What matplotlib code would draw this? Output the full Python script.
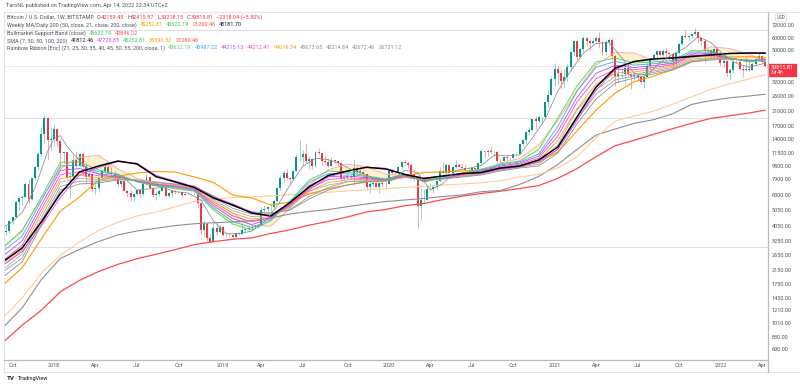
import matplotlib
matplotlib.use("Agg")
import matplotlib.pyplot as plt
from matplotlib.lines import Line2D
from matplotlib.patches import Rectangle
from matplotlib.ticker import NullLocator
import pandas as pd

plt.rcParams['font.family'] = ['Roboto', 'DejaVu Sans']

# weekly BTCUSD candles (BITSTAMP), first week 2017-09-11
first_week = '2017-09-11'
first_open = 4160
closes = [3690, 3780, 4370, 4600, 5700, 6010, 6150, 7400, 5950, 8000, 9350, 11300, 15000, 19100, 13900, 14000,
          16200, 13600, 11500, 11700, 8200, 8200, 10400, 9600, 11400, 9500, 8200, 8500, 6900, 7000, 8000, 8900,
          9350, 8700, 8500, 8200, 7350, 7650, 6700, 6450, 6100, 6400, 6750, 6350, 7400, 8200, 7000, 6300,
          6400, 6700, 7200, 6200, 6500, 6700, 6600, 6600, 6300, 6400, 6350, 6400, 6350, 5600, 3800, 4150,
          3400, 3200, 3950, 3700, 4000, 3550, 3550, 3530, 3450, 3650, 3620, 3800, 3850, 3950, 4000, 4000,
          4100, 5100, 5150, 5300, 5300, 5800, 7000, 8000, 8700, 8000, 7950, 8950, 10800, 10800, 11300, 10200,
          10500, 9500, 11700, 11500, 10300, 10100, 9600, 10400, 10300, 10000, 8050, 8150, 8300, 8200, 9250, 8800,
          8800, 8500, 7050, 7400, 7500, 7100, 7500, 7400, 7350, 8900, 8650, 8600, 9350, 10150, 9900, 9650,
          8550, 8000, 5350, 5850, 5900, 6850, 6900, 7100, 7700, 8900, 8700, 9700, 8700, 9450, 9650, 9450,
          9300, 9000, 9050, 9250, 9200, 9950, 11800, 11700, 11900, 11650, 11700, 10250, 10300, 10900, 10700, 10650,
          11350, 11350, 13050, 13800, 15500, 16000, 18700, 18200, 19150, 19200, 23800, 26500, 33000, 38200, 36000, 32300,
          34300, 39300, 48600, 57400, 45200, 51200, 59900, 57500, 55900, 57000, 60000, 56200, 49100, 56600, 58300, 46400,
          34800, 35700, 35800, 39100, 35500, 34700, 35300, 34200, 31800, 34300, 39900, 44600, 47000, 49300, 47100, 49900,
          48300, 47300, 42800, 48200, 55000, 61500, 60900, 61300, 63300, 65500, 59700, 57300, 49400, 50100, 46700, 50800,
          47300, 41800, 43100, 36300, 37900, 42400, 42200, 38400, 37700, 38400, 37800, 41300, 44500, 46400, 42159.45, 39815.81]
highs = [4180, 4120, 4400, 4620, 5860, 6200, 6310, 7600, 7880, 8100, 9500, 11800, 16800, 19700, 19200, 16500,
         17250, 16300, 14100, 11900, 11700, 8700, 11200, 11800, 11500, 11700, 9900, 9100, 8500, 7500, 8200, 9000,
         9750, 9950, 9400, 8880, 8400, 7800, 7770, 6800, 6800, 6500, 6800, 6800, 7600, 8500, 8250, 7100,
         6600, 6900, 7300, 7400, 6600, 6800, 6800, 6650, 6650, 6500, 6500, 6500, 6550, 6450, 5650, 4400,
         4300, 3600, 4200, 4200, 4100, 4100, 3700, 3700, 3600, 3700, 3720, 4200, 3900, 3970, 4050, 4100,
         4150, 5300, 5460, 5400, 5650, 5900, 7100, 8400, 8900, 9100, 8200, 9100, 11300, 13880, 12000, 13200,
         11000, 10600, 11800, 12300, 11500, 10950, 10600, 10900, 10450, 10300, 10100, 8450, 8800, 8450, 10500, 9550,
         9500, 8850, 8500, 7800, 7700, 7650, 7550, 7700, 7650, 8950, 9200, 8800, 9600, 10200, 10500, 10300,
         9950, 9200, 8150, 6950, 6900, 7200, 7450, 7300, 7800, 9450, 10050, 9900, 9850, 9600, 10400, 10000,
         9800, 9750, 9300, 9450, 9300, 10050, 12100, 11900, 12100, 12500, 11800, 12050, 10600, 11100, 11000, 10900,
         11400, 11700, 13300, 14000, 15900, 16500, 18800, 19500, 19900, 19400, 24300, 28400, 34800, 42000, 40100, 37800,
         38600, 40900, 49700, 58300, 57500, 52600, 61700, 60500, 58500, 60000, 61800, 64900, 57000, 58000, 59500, 59500,
         46700, 40800, 39500, 41300, 41300, 36100, 36700, 35900, 34700, 34500, 42400, 44700, 48100, 49500, 50500, 51000,
         52900, 48900, 47400, 48500, 56500, 62900, 67000, 63700, 64300, 69000, 66300, 59900, 59100, 51900, 50600, 52100,
         52000, 47600, 44400, 43500, 38900, 42500, 45800, 44700, 39800, 45400, 42500, 42400, 44800, 48200, 47000, 42415.57]
lows = [2980, 3530, 3680, 4160, 4560, 5110, 5420, 6100, 5510, 5840, 7800, 9000, 11000, 13200, 10400, 12000,
        12800, 12800, 9000, 10000, 7900, 6000, 8000, 9300, 9400, 8300, 7400, 7900, 6600, 6400, 6600, 7800,
        8700, 8600, 8300, 7900, 7050, 7100, 6650, 6150, 5800, 5800, 6280, 6100, 6300, 7300, 6900, 6100,
        5900, 6250, 6680, 6100, 6100, 6100, 6400, 6500, 6100, 6300, 6300, 6300, 6300, 5200, 3550, 3500,
        3250, 3150, 3200, 3550, 3650, 3500, 3450, 3500, 3350, 3400, 3560, 3600, 3720, 3700, 3800, 3950,
        3950, 4100, 4950, 4970, 5000, 5200, 5700, 6800, 7500, 7900, 7450, 7800, 8950, 10300, 9600, 10000,
        9100, 9100, 9400, 11200, 9500, 9800, 9350, 9600, 9900, 9600, 7700, 7750, 7850, 7900, 7300, 8700,
        8700, 8450, 6800, 6500, 7200, 7050, 6450, 7100, 6850, 7350, 8550, 8250, 8600, 9150, 9700, 9300,
        8400, 7700, 3850, 4500, 5700, 5850, 6750, 6450, 6800, 7650, 8550, 8100, 8600, 8650, 9250, 9350,
        9150, 8900, 8950, 9050, 9050, 9150, 9950, 10800, 11100, 11500, 11100, 9900, 9850, 10200, 10150, 10400,
        10550, 11200, 11300, 12900, 13300, 14900, 15800, 16200, 17600, 17600, 19000, 22400, 26500, 30200, 30400, 28800,
        29300, 32300, 37400, 47000, 43000, 45000, 49200, 53300, 50400, 54800, 55500, 51500, 47100, 47000, 53000, 43900,
        30000, 31200, 33500, 31100, 34800, 28800, 32700, 32100, 31000, 29300, 34000, 37700, 43800, 43900, 46400, 46500,
        42800, 43400, 39500, 40800, 47000, 53900, 59500, 58000, 59500, 62300, 55600, 53300, 42000, 46900, 45500, 45500,
        45700, 40600, 39700, 34000, 32900, 36300, 41700, 38000, 34300, 37200, 37200, 37600, 40500, 44200, 41900, 39218.15]

# SMA 7 (thin grey)
sma7_weeks = [0, 2, 6, 10, 12, 14, 16, 18, 20, 22, 26, 30, 34, 38, 42, 46, 50, 54, 58, 62, 66, 70, 74, 78, 82,
              86, 90, 94, 98, 102, 106, 110, 114, 118, 122, 126, 130, 134, 138, 142, 146, 150, 154, 158, 162,
              166, 170, 174, 178, 182, 186, 190, 194, 198, 202, 206, 210, 214, 218, 222, 226, 230, 234, 238, 239]
sma7 = [4027, 4149, 4900, 6937, 9021, 11800, 14121, 14757, 12729, 11400, 9357, 8500, 8193, 8064, 6771, 6886,
        7029, 6614, 6493, 5886, 4350, 3621, 3621, 3760, 4307, 5393, 7250, 9500, 10686, 10457, 9821, 8893,
        8414, 7693, 7771, 8986, 8707, 6771, 7436, 8971, 9229, 9650, 11129, 11057, 11186, 14250, 18650, 27979,
        37386, 47986, 55243, 56157, 45243, 35843, 35100, 42000, 47386, 52000, 61029, 56000, 47029, 41571, 39257,
        41180, 41812.46]

# six-weekly samples of the other averages
ma_weeks = [0, 6, 12, 18, 24, 30, 36, 42, 48, 54, 60, 66, 72, 78, 84, 90, 96, 102, 108, 114, 120,
            126, 132, 138, 144, 150, 156, 162, 168, 174, 180, 186, 192, 198, 204, 210, 216, 222, 228, 234, 239]
daily200 = [2420, 2950, 4280, 6440, 8770, 9550, 10260, 9830, 8200, 7600, 7020, 6040, 5465, 4870, 4670, 5660,
            7070, 8340, 8890, 9380, 9150, 8460, 7990, 8280, 8580, 8700, 9280, 9550, 10410, 12540, 19280, 29620,
            38890, 42690, 44240, 44880, 45860, 46850, 47880, 48210, 48181.70]
sma30 = [2300, 2800, 4050, 6100, 8400, 9350, 10150, 9950, 8350, 7700, 7100, 6150, 5550, 4950, 4650, 5450,
         6800, 8150, 8850, 9400, 9250, 8500, 8050, 8250, 8500, 8650, 9150, 9450, 10200, 12100, 18300, 28300,
         38000, 42800, 44500, 45200, 46300, 47500, 48000, 48200, 47723.85]
sma50 = [1737, 2217, 3358, 5015, 6128, 7818, 8243, 8642, 8831, 8768, 8161, 7550, 6306, 6041, 5465, 5705,
         6397, 6913, 7277, 7630, 7818, 8279, 8705, 8768, 8894, 9022, 9207, 9487, 10117, 11676, 15774, 21309,
         27183, 32008, 34581, 37918, 42625, 44441, 45526, 45725, 45252.81]
sma100 = [1086, 1442, 2049, 2670, 3217, 3793, 4266, 4668, 4930, 5326, 5745, 5955, 6085, 6138, 6216, 6354,
          6444, 6565, 6678, 6787, 6903, 7022, 7143, 7277, 7383, 7512, 7729, 8161, 8463, 9312, 10869, 14372,
          18203, 19554, 20947, 23165, 25783, 28677, 31022, 33300, 35390.32]
sma200 = [762, 976, 1209, 1578, 1855, 2108, 2334, 2529, 2698, 2882, 3096, 3231, 3343, 3410, 3634, 3830,
          4091, 4321, 4601, 4944, 5126, 5403, 5584, 5907, 6199, 6444, 6659, 6913, 7215, 8001, 9207, 10916,
          12778, 13825, 15023, 16306, 17610, 18898, 19638, 20412, 21260.46]
ema200 = [945, 1249, 1875, 2540, 2890, 3240, 3556, 3766, 3914, 4068, 4176, 4235, 4284, 4358, 4536, 4804,
          4979, 5119, 5334, 5543, 5745, 5870, 5999, 6172, 6306, 6612, 6726, 7333, 8220, 9766, 12124, 14895,
          16231, 17610, 18527, 20186, 23098, 24380, 25382, 26042, 26721.12]
sma20 = [2940, 3820, 5928, 9188, 10848, 11110, 9185, 8008, 7385, 6858, 6655, 5755, 4879, 4075, 4038, 5213,
         7245, 9065, 9820, 9460, 8488, 8343, 7933, 7988, 8288, 8620, 9980, 10625, 12930, 18330, 27978, 40630,
         48710, 48080, 43315, 40690, 46835, 52760, 51310, 47370, 42846.22]
ema21 = [2990, 3770, 6130, 10100, 10100, 9022, 8520, 7600, 7170, 6970, 6680, 5087, 4160, 3820, 4350, 5790,
         7818, 8890, 8770, 8280, 7930, 8520, 7600, 8160, 8640, 9150, 9830, 10260, 12100, 19000, 30050, 42380,
         44879, 41777, 42380, 43300, 49970, 49611, 44879, 42380, 43622.19]
ema25 = [2819, 3496, 5795, 9568, 9678, 8793, 8427, 7630, 7236, 7032, 6745, 5235, 4315, 3959, 4416, 5680,
         7566, 8558, 8547, 8185, 7900, 8451, 7641, 8034, 8571, 9052, 9692, 10117, 11346, 16873, 27856, 39343,
         42686, 40540, 41369, 42504, 48837, 48701, 44820, 42564, 43987.22]
ema30 = [2632, 3263, 5434, 8971, 9207, 8535, 8302, 7663, 7302, 7092, 6826, 5403, 4498, 4129, 4498, 5568,
         7204, 8196, 8290, 8069, 7866, 8374, 7696, 8011, 8499, 8919, 9541, 9960, 10994, 15706, 25527, 36155,
         40309, 39172, 40248, 41575, 47524, 47740, 44694, 42747, 44215.13]
ema35 = [2467, 3059, 5119, 8451, 8781, 8290, 8196, 7696, 7365, 7153, 6893, 5568, 4674, 4290, 4575, 5457,
         6913, 7866, 8058, 7966, 7833, 8302, 7740, 7989, 8427, 8805, 9393, 9807, 10670, 14683, 23934, 33371,
         38190, 37918, 39229, 40733, 46380, 46783, 44567, 42930, 44212.41]
ema40 = [2314, 2868, 4826, 7955, 8374, 8069, 8092, 7729, 7427, 7214, 6971, 5737, 4860, 4455, 4654, 5357,
         6640, 7533, 7844, 7866, 7795, 8232, 7795, 7978, 8350, 8693, 9259, 9664, 10352, 13746, 21685, 30849,
         36200, 36725, 38242, 39907, 45270, 45921, 44507, 43114, 44018.34]
ema45 = [2161, 2702, 4556, 7566, 8011, 7866, 8001, 7762, 7598, 7277, 7042, 5907, 5036, 4621, 4728, 5258,
         6687, 7267, 7641, 7773, 7762, 8161, 7844, 7966, 8279, 8595, 9040, 9527, 10060, 12932, 21350, 28595,
         34433, 35648, 37307, 39172, 44241, 45078, 44441, 43301, 43673.65]
ema50 = [2097, 2554, 4321, 7133, 7696, 7674, 7911, 7784, 7544, 7333, 7102, 6059, 5214, 4785, 4804, 5104,
         6172, 7022, 7630, 7685, 7740, 8103, 7888, 7945, 8220, 8499, 9009, 9405, 9807, 12188, 18711, 26732,
         32857, 34630, 36517, 38458, 43301, 44380, 44319, 43424, 43214.84]
ema55 = [1948, 2415, 4103, 6774, 7383, 7489, 7818, 7818, 7598, 7383, 7174, 6216, 5387, 4944, 4873, 5087,
         5955, 6774, 7277, 7598, 7707, 8161, 7930, 7930, 8161, 8398, 8894, 9284, 9554, 11509, 17436, 24946,
         31369, 33698, 35686, 37791, 42380, 43611, 44241, 43611, 42672.46]

hlines = [67000, 19000, 3000]
price_ticks = [72000, 60000, 50000, 32000, 26000, 21000, 17000, 14000, 11500, 9500, 7900, 6300, 5050, 4050,
               3250, 2650, 2150, 1750, 1450, 1210, 1010, 830, 690]
last_close = 39815.81

W, H = 800, 387
FS = 3.95
fig = plt.figure(figsize=(W / 100, H / 100), dpi=100)
ax = fig.add_axes([5 / W, 1 - 360 / H, 763 / W, 348 / H])
ax.set_yscale('log')
ax.set_ylim(593, 86740)
ax.set_xlim(0.63, 239.9)

UP, DOWN = '#089981', '#f23645'
opens = [first_open] + closes[:-1]
x = list(range(len(closes)))
cols = [UP if c >= o else DOWN for o, c in zip(opens, closes)]
ax.vlines(x, lows, highs, colors=cols, lw=0.5, alpha=0.6, zorder=2)
ax.bar(x, [max(abs(c - o), c * 0.004) for o, c in zip(opens, closes)],
       bottom=[min(o, c) for o, c in zip(opens, closes)], width=0.62, color=cols, zorder=2.1)

for lv in hlines:
    ax.axhline(lv, color='#dadde3', lw=0.7, zorder=1)
ax.axhline(last_close, color=DOWN, lw=0.6, ls=(0, (1, 2)), alpha=0.5, zorder=1)

# bull market support band
ax.fill_between(ma_weeks, sma20, ema21, color='#fbeec0', alpha=0.8, lw=0, zorder=1.5)
ax.plot(ma_weeks, sma20, color='#f7b2a5', lw=0.7, zorder=3)

ax.plot(ma_weeks, sma200, color='#ff4a4a', lw=0.9, zorder=3)
ax.plot(ma_weeks, ema200, color='#8f8f8f', lw=0.8, zorder=3)
ax.plot(ma_weeks, sma100, color='#ffcc99', lw=0.8, zorder=3)
ax.plot(ma_weeks, sma50, color='#ff9800', lw=0.8, zorder=3)

ribbon = [(ema55, '#8e8e8e'), (ema50, '#9c9c9c'), (ema45, '#aaaaaa'), (ema40, '#ff9f1a'),
          (ema35, '#f24bc8'), (ema30, '#b84df0'), (ema25, '#3fa9f5'), (ema21, '#45d65a')]
for vals, c in ribbon:
    ax.plot(ma_weeks, vals, color=c, lw=0.6, zorder=3.2)

ax.plot(ma_weeks, sma30, color='#e040fb', lw=0.6, zorder=3.3)
ax.plot(ma_weeks, daily200, color='#000000', lw=1.1, zorder=3.4)
ax.plot(sma7_weeks, sma7, color='#8a8a8a', lw=0.55, zorder=3.5)

# axes look
for s in ax.spines.values():
    s.set_visible(False)
ax.yaxis.tick_right()
ax.set_yticks(price_ticks)
ax.set_yticklabels([f'{v:.2f}' for v in price_ticks])
ax.yaxis.set_minor_locator(NullLocator())
ax.tick_params(axis='y', length=0, pad=2.6, labelsize=FS, labelcolor='#50535e')

dates = pd.date_range(first_week, periods=len(closes), freq='7D')
tick_pos, tick_lab = [], []
for m in pd.period_range('2017-10', '2022-04', freq='M'):
    if m.month in (1, 4, 7, 10):
        hits = [i for i, d in enumerate(dates) if d.year == m.year and d.month == m.month]
        tick_pos.append(hits[0])
        tick_lab.append(str(m.year) if m.month == 1 else m.strftime('%b'))
ax.set_xticks(tick_pos)
ax.set_xticklabels(tick_lab)
ax.tick_params(axis='x', length=0, pad=2.2, labelsize=FS, labelcolor='#50535e')


def px(xp, yp):
    return xp / W, 1 - yp / H


def fline(x0, y0, x1, y1, color, lw=0.7):
    fig.add_artist(Line2D([x0 / W, x1 / W], [1 - y0 / H, 1 - y1 / H], color=color, lw=lw))


fline(3, 12, 800, 12, '#e0e3eb')
fline(4, 12, 4, 372, '#e0e3eb')
fline(4, 360, 768, 360, '#b8bbc3', 0.9)
fline(4, 372, 800, 372, '#e0e3eb')
fline(768, 12, 768, 372, '#b8bbc3', 0.9)

# last price tag
fig.add_artist(Rectangle(px(768, 76), 28 / W, 12.5 / H, color=DOWN))
fig.text(*px(771, 67.3), '39815.81', color='white', fontsize=FS, va='center')
fig.text(*px(771, 72.5), '3d 4h', color='white', fontsize=3.4, va='center')
fig.text(*px(781, 17.5), 'USD', color='#50535e', fontsize=3.3, va='center', ha='center',
         bbox=dict(boxstyle='round,pad=0.25', fc='white', ec='#c9ccd3', lw=0.4))

renderer = fig.canvas.get_renderer()
GREY = '#50535e'


def row(y, parts, x0=7):
    xx = x0
    for s, c, gap in parts:
        t = fig.text(*px(xx, y), s, color=c, fontsize=FS, va='center', ha='left')
        xx += t.get_window_extent(renderer=renderer).width + gap


fig.text(*px(6, 6), 'TaroNL published on TradingView.com, Apr 14, 2022 22:34 UTC+2',
         color=GREY, fontsize=FS, va='center')
row(17.3, [('Bitcoin / U.S. Dollar, 1W, BITSTAMP', GREY, 3),
           ('O', GREY, 0), ('42159.45', DOWN, 3), ('H', GREY, 0), ('42415.57', DOWN, 3),
           ('L', GREY, 0), ('39218.15', DOWN, 3), ('C', GREY, 0), ('39815.81', DOWN, 3),
           ('\u22122318.04 (\u22125.50%)', DOWN, 0)])
row(25, [('Weekly MA/Daily 200 (50, close, 21, close, 200, close)', GREY, 3),
         ('45252.81', '#ff9800', 3), ('43622.19', '#2fd05a', 3), ('21260.46', '#ff4a4a', 3),
         ('48181.70', '#131722', 0)])
row(33.3, [('Bullmarket Support Band (close)', GREY, 3), ('43622.19', '#2fd05a', 3),
           ('42846.22', '#f5556a', 0)])
row(40.7, [('SMA (7, 30, 50, 100, 200)', GREY, 3), ('41812.46', '#131722', 3),
           ('47723.85', '#e040fb', 3), ('45252.81', '#2fd05a', 3), ('35390.32', '#ff9800', 3),
           ('21260.46', '#ff4a4a', 0)])
row(47.7, [('Rainbow Ribbon [Eric] (21, 25, 30, 35, 40, 45, 50, 55, 200, close, 1)', GREY, 3),
           ('43622.19', '#45d65a', 3), ('43987.22', '#3fa9f5', 3), ('44215.13', '#b84df0', 3),
           ('44212.41', '#f24bc8', 3), ('44018.34', '#ff9f1a', 3), ('43673.65', '#8e8e8e', 3),
           ('43214.84', '#8e8e8e', 3), ('42672.46', '#8e8e8e', 3), ('26721.12', '#8e8e8e', 0)])

fig.text(*px(7, 378.5), 'TV', color='#131722', fontsize=4.4, fontweight='bold', va='center')
fig.text(*px(17.5, 378.5), 'TradingView', color='#131722', fontsize=FS, va='center')

fig.savefig('out.png', dpi=100)
